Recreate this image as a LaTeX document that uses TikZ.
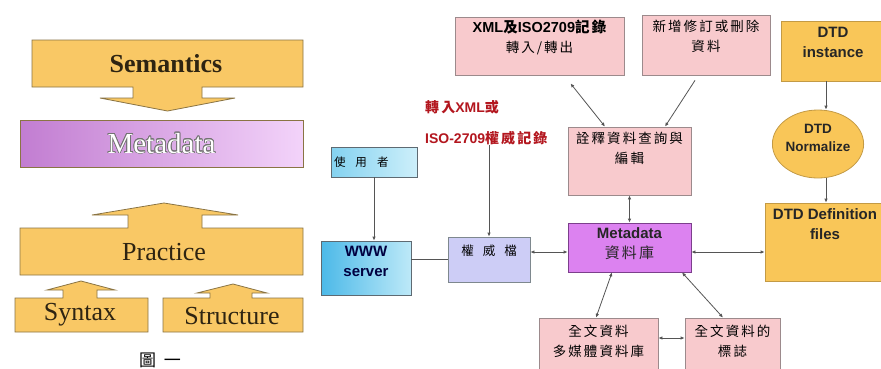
\documentclass[tikz,border=0pt]{standalone}
\usepackage{fontspec}
\setmainfont{Liberation Serif}
\setsansfont{Liberation Sans}
\newfontfamily\cjk{Noto Sans CJK TC}[LetterSpace=15]
\newfontfamily\cjkcap{Noto Sans CJK TC}
\usepackage{xcolor}
\usepackage{tikz}
\usetikzlibrary{shapes.geometric, arrows.meta, positioning}
\usepackage[copies]{contour}
\contourlength{0.7pt}

\definecolor{layerfill}{HTML}{F9C865}
\definecolor{layerline}{HTML}{8A7444}
\definecolor{layerink}{HTML}{2E2412}
\definecolor{pinkfill}{HTML}{F8CACD}
\definecolor{pinkline}{HTML}{9C8A8C}
\definecolor{dtdfill}{HTML}{F9C658}
\definecolor{dtdline}{HTML}{C39A45}
\definecolor{metafill}{HTML}{DC82F0}
\definecolor{metaline}{HTML}{7C3F8C}
\definecolor{authfill}{HTML}{CDCDF6}
\definecolor{wwwleft}{HTML}{4CB9E8}
\definecolor{wwwright}{HTML}{BDE9F8}
\definecolor{userleft}{HTML}{84D2F0}
\definecolor{userright}{HTML}{CDEFFA}
\definecolor{boxline}{HTML}{5E6A72}
\definecolor{linkgray}{HTML}{555555}
\definecolor{notered}{HTML}{B3161E}

\newcommand{\zh}[1]{{\cjk #1}}
\newcommand{\boxtext}[2]{\raisebox{#1}[\height][\depth]{\begin{tabular}{@{}c@{}}#2\end{tabular}}}

\tikzset{
    layer/.style={draw=layerline, line width=0.8pt, fill=layerfill},
    layertext/.style={text=layerink, font=\rmfamily\fontsize{26}{30}\selectfont},
    base/.style={rectangle, line width=0.8pt, inner sep=0pt},
    latin/.style={font=\sffamily\bfseries\fontsize{15}{20}\selectfont},
    zhtext/.style={font=\cjk\fontsize{13.5}{20}\selectfont},
    pinkbox/.style={base, zhtext, draw=pinkline, fill=pinkfill},
    dtdbox/.style={base, latin, draw=dtdline, fill=dtdfill, text=black!85},
    metabox/.style={base, latin, draw=metaline, fill=metafill, text=black!85},
    wwwbox/.style={base, latin, draw=boxline, left color=wwwleft, right color=wwwright, text=black!75!blue},
    userbox/.style={base, font=\cjk\fontsize{11.5}{16}\selectfont, draw=boxline, left color=userleft, right color=userright, text width=80pt, align=left, inner xsep=3pt},
    authbox/.style={base, font=\cjk\fontsize{12.5}{16}\selectfont, draw=boxline!80, fill=authfill},
    link/.style={draw=linkgray, line width=0.8pt},
    linkto/.style={link, -{Latex[length=4pt, width=3.5pt]}},
    linkboth/.style={link, {Latex[length=4pt, width=3.5pt]}-{Latex[length=4pt, width=3.5pt]}}
}

\begin{document}
\begin{tikzpicture}[x=1pt, y=-1pt]
    \fill[white] (0,0) rectangle (881,368);
    \useasboundingbox (0,0) rectangle (881,368);

    % layers on the left
    \draw[layer] (32,40) -- (303,40) -- (303,87) -- (202,87) -- (202,98) -- (235,98) -- (167.5,111) -- (100,98) -- (133,98) -- (133,87) -- (32,87) -- cycle;
    \node[layertext, font=\rmfamily\bfseries\fontsize{26}{30}\selectfont] (sem) at (166,64) {Semantics};

    \node[base, draw=layerline, left color=metafill!85!black!90, middle color=metafill!25, right color=metafill!35,
          minimum width=283, minimum height=47, font=\rmfamily\fontsize{29}{32}\selectfont] (metalayer) at (161.5,143.5)
          {\color{white}\contour{black!55}{Metadata}};

    \draw[layer] (20,228) -- (128,228) -- (128,215) -- (92,215) -- (164,203) -- (238,215) -- (202,215) -- (202,228) -- (303,228) -- (303,275) -- (20,275) -- cycle;
    \node[layertext] (prac) at (164,252) {Practice};

    \draw[layer] (15,298) -- (63,298) -- (63,290) -- (47,290) -- (81,281) -- (115,290) -- (97,290) -- (97,298) -- (148,298) -- (148,332) -- (15,332) -- cycle;
    \node[layertext] (syn) at (80,315) {Syntax};

    \draw[layer] (163,298) -- (210,298) -- (210,293) -- (197,293) -- (233,284) -- (267,293) -- (252,293) -- (252,298) -- (303,298) -- (303,332) -- (163,332) -- cycle;
    \node[layertext] (struc) at (232,316) {Structure};

    \node[anchor=north, font=\cjkcap\fontsize{17}{17}\selectfont] (caption) at (160,349) {圖\hspace{8pt}一};

    % system on the right
    \node[pinkbox, minimum width=169, minimum height=58] (xml) at (539.5,46)
        {\boxtext{8pt}{\sffamily\bfseries\fontsize{14.5}{20}\selectfont XML\zh{及}ISO2709\zh{記錄}\\ \zh{轉入/轉出}}};
    \node[pinkbox, minimum width=128, minimum height=60] (edit) at (706,45) {\boxtext{7.5pt}{新增修訂或刪除\\資料}};
    \node[dtdbox, minimum width=104, minimum height=60] (dtdinst) at (833,51) {\boxtext{8pt}{DTD\\instance}};
    \node[ellipse, line width=0.8pt, draw=dtdline, fill=dtdfill, inner sep=0pt, minimum width=90, minimum height=68,
          font=\sffamily\bfseries\fontsize{13.5}{18}\selectfont, text=black!85] (norm) at (818,144) {\boxtext{5pt}{DTD\\Normalize}};
    \node[dtdbox, minimum width=120, minimum height=78] (dtddef) at (825,242) {\boxtext{16.5pt}{DTD Definition\\files}};
    \coordinate (dtdaxis) at (826,0);

    \node[pinkbox, minimum width=123, minimum height=68] (query) at (629.5,161) {\boxtext{11.5pt}{詮釋資料查詢與\\編輯}};
    \node[metabox, minimum width=123, minimum height=49] (meta) at (629.5,247.5) {\boxtext{3.5pt}{Metadata\\ \zh{\mdseries 資料庫}}};
    \node[authbox, minimum width=82, minimum height=45] (auth) at (489,259.5) {\boxtext{7.5pt}{權\hspace{9pt}威\hspace{9pt}檔}};
    \node[wwwbox, minimum width=90, minimum height=54] (www) at (366,268) {\boxtext{6pt}{WWW\\server}};
    \node[userbox, minimum height=30] (user) at (374,162) {使\hspace{10pt}用\hspace{10pt}者};
    \node[anchor=north west, align=left, inner sep=0pt, text=notered, font=\sffamily\bfseries\fontsize{14}{20}\selectfont] (note) at (425,100)
        {\zh{轉入}XML\zh{或}\\[11pt]ISO-2709\zh{權威記錄}};

    \node[pinkbox, minimum width=119, minimum height=54] (fulltext) at (598.5,345) {\boxtext{3pt}{全文資料\\多媒體資料庫}};
    \node[pinkbox, minimum width=95, minimum height=54] (mark) at (732.5,345) {\boxtext{3pt}{全文資料的\\標誌}};

    \draw[linkboth] ([xshift=31pt, yshift=-8pt]xml.south) -- ([xshift=-24.5pt]query.north);
    \draw[linkto] ([xshift=-11pt, yshift=-5pt]edit.south) -- ([xshift=35.5pt]query.north);
    \draw[linkboth] (query.south) -- (meta.north);
    \draw[linkboth] (meta.east |- 0,252) -- (dtddef.west |- 0,252);
    \draw[linkboth] (auth.east |- 0,252) -- (meta.west |- 0,252);
    \draw[link] (auth.west) -- (auth.west -| www.east);
    \draw[linkto] (user) -- (user |- www.north);
    \draw[linkto] (note.south -| auth) -- (auth);
    \draw[linkto] (dtdinst.south -| dtdaxis) -- (norm.north -| dtdaxis);
    \draw[linkto] (norm.south -| dtdaxis) -- (dtddef.north -| dtdaxis);
    \draw[linkboth] ([xshift=-17.5pt]meta.south) -- ([xshift=-2.5pt]fulltext.north);
    \draw[linkboth] ([xshift=52.5pt]meta.south) -- ([xshift=-9.5pt]mark.north);
    \draw[linkboth] (fulltext.east |- 0,338) -- (mark.west |- 0,338);
\end{tikzpicture}
\end{document}
